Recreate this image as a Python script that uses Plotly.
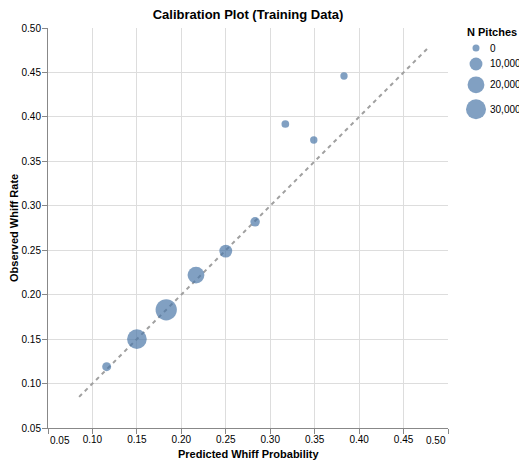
import numpy as np
import plotly.graph_objects as go

# calibration bins
pred_prob = [0.116, 0.150, 0.183, 0.2165, 0.250, 0.283, 0.317, 0.349, 0.383]
obs_rate = [0.119, 0.150, 0.183, 0.222, 0.249, 0.282, 0.392, 0.374, 0.446]
n_pitches = [2700, 29000, 34500, 20000, 10000, 3500, 900, 500, 400]

diag_x = [0.085, 0.477]

axis_ticks = [0.05, 0.10, 0.15, 0.20, 0.25, 0.30, 0.35, 0.40, 0.45, 0.50]
legend_vals = [0, 10000, 20000, 30000]
legend_text = ['0', '10,000', '20,000', '30,000']

BLUE = '#4c78a8'
FONT = 'Liberation Sans, Arial, sans-serif'

# the page body adds 8px, so the figure is laid out 8px smaller
W, H = 519, 456
L, T, PH = 40, 20, 400
PW = W - L
PLOT_W = 400


def diam(n):
    # area-like size scale: diameter^2 grows linearly with count
    return np.sqrt(49 + 351 * np.asarray(n, dtype=float) / 30000)


fig = go.Figure()

fig.add_trace(go.Scatter(x=diag_x, y=diag_x, mode='lines',
                         line=dict(color='#a0a0a0', width=2, dash='4px,4px'),
                         showlegend=False, hoverinfo='skip'))
fig.add_trace(go.Scatter(x=pred_prob, y=obs_rate, mode='markers',
                         marker=dict(color=BLUE, opacity=0.7, size=diam(n_pitches), line=dict(width=0)),
                         customdata=n_pitches, showlegend=False,
                         hovertemplate='%{x:.3f}, %{y:.3f}<br>N=%{customdata:,}<extra></extra>'))

# hand-built size legend on its own small axes
leg_d = diam(legend_vals)
leg_y = [20.0]
for i in range(1, len(leg_d)):
    leg_y.append(leg_y[-1] + (leg_d[i - 1] + leg_d[i]) / 2 + 6)
fig.add_trace(go.Scatter(x=[16] * len(legend_vals), y=leg_y, mode='markers',
                         marker=dict(color=BLUE, opacity=0.7, size=leg_d, line=dict(width=0)),
                         xaxis='x2', yaxis='y2', showlegend=False, hoverinfo='skip'))

leg_notes = [dict(text=t, x=28, y=yy, xref='x2', yref='y2', xanchor='left', yanchor='middle',
                  showarrow=False, font=dict(size=10)) for t, yy in zip(legend_text, leg_y)]

tick_text = ['' if v in (0.05, 0.50) else f'{v:.2f}' for v in axis_ticks]

fig.update_layout(
    width=W, height=H,
    margin=dict(l=L, r=0, t=T, b=H - T - PH, autoexpand=False),
    paper_bgcolor='white', plot_bgcolor='white',
    font=dict(family=FONT, size=10, color='black'),
    title=dict(text='<b>Calibration Plot (Training Data)</b>', x=(PLOT_W / 2) / PW, xref='paper',
               xanchor='center', y=1 - 2 / H, yref='container', yanchor='top', pad=dict(t=0),
               font=dict(size=13, family=FONT, color='black'), automargin=False),
    xaxis=dict(domain=[0, PLOT_W / PW], range=[0.05, 0.50], tickvals=axis_ticks, ticktext=tick_text,
               showgrid=True, gridcolor='#dddddd', gridwidth=1, zeroline=False,
               showline=True, linecolor='#888888', linewidth=1, automargin=False,
               ticks='outside', ticklen=5, tickcolor='#888888', ticklabelstandoff=-3),
    yaxis=dict(range=[0.05, 0.50], tickvals=axis_ticks, tickformat='.2f',
               showgrid=True, gridcolor='#dddddd', gridwidth=1, zeroline=False,
               showline=True, linecolor='#888888', linewidth=1, automargin=False,
               ticks='outside', ticklen=5, tickcolor='#888888', ticklabelstandoff=-1),
    xaxis2=dict(domain=[(452 - L) / PW, 1], range=[0, W - 452], visible=False, fixedrange=True),
    yaxis2=dict(domain=[0, 1], range=[PH, 0], visible=False, fixedrange=True, anchor='x2'),
    annotations=[
        dict(text='0.05', x=0.05, y=0, xref='x', yref='paper', xanchor='left', yanchor='top',
             yshift=-5, showarrow=False, font=dict(size=10)),
        dict(text='0.50', x=0.50, y=0, xref='x', yref='paper', xanchor='right', yanchor='top',
             yshift=-5, showarrow=False, font=dict(size=10)),
        dict(text='<b>Predicted Whiff Probability</b>', x=(PLOT_W / 2) / PW, y=-26 / PH,
             xref='paper', yref='paper', xanchor='center', yanchor='middle',
             showarrow=False, font=dict(size=11)),
        dict(text='<b>Observed Whiff Rate</b>', x=(6 - L) / PW, y=0.5, textangle=-90,
             xref='paper', yref='paper', xanchor='center', yanchor='middle',
             showarrow=False, font=dict(size=11)),
        dict(text='<b>N Pitches</b>', x=5, y=4, xref='x2', yref='y2', xanchor='left',
             yanchor='middle', showarrow=False, font=dict(size=11)),
    ] + leg_notes,
)

fig.write_html('out.html')
